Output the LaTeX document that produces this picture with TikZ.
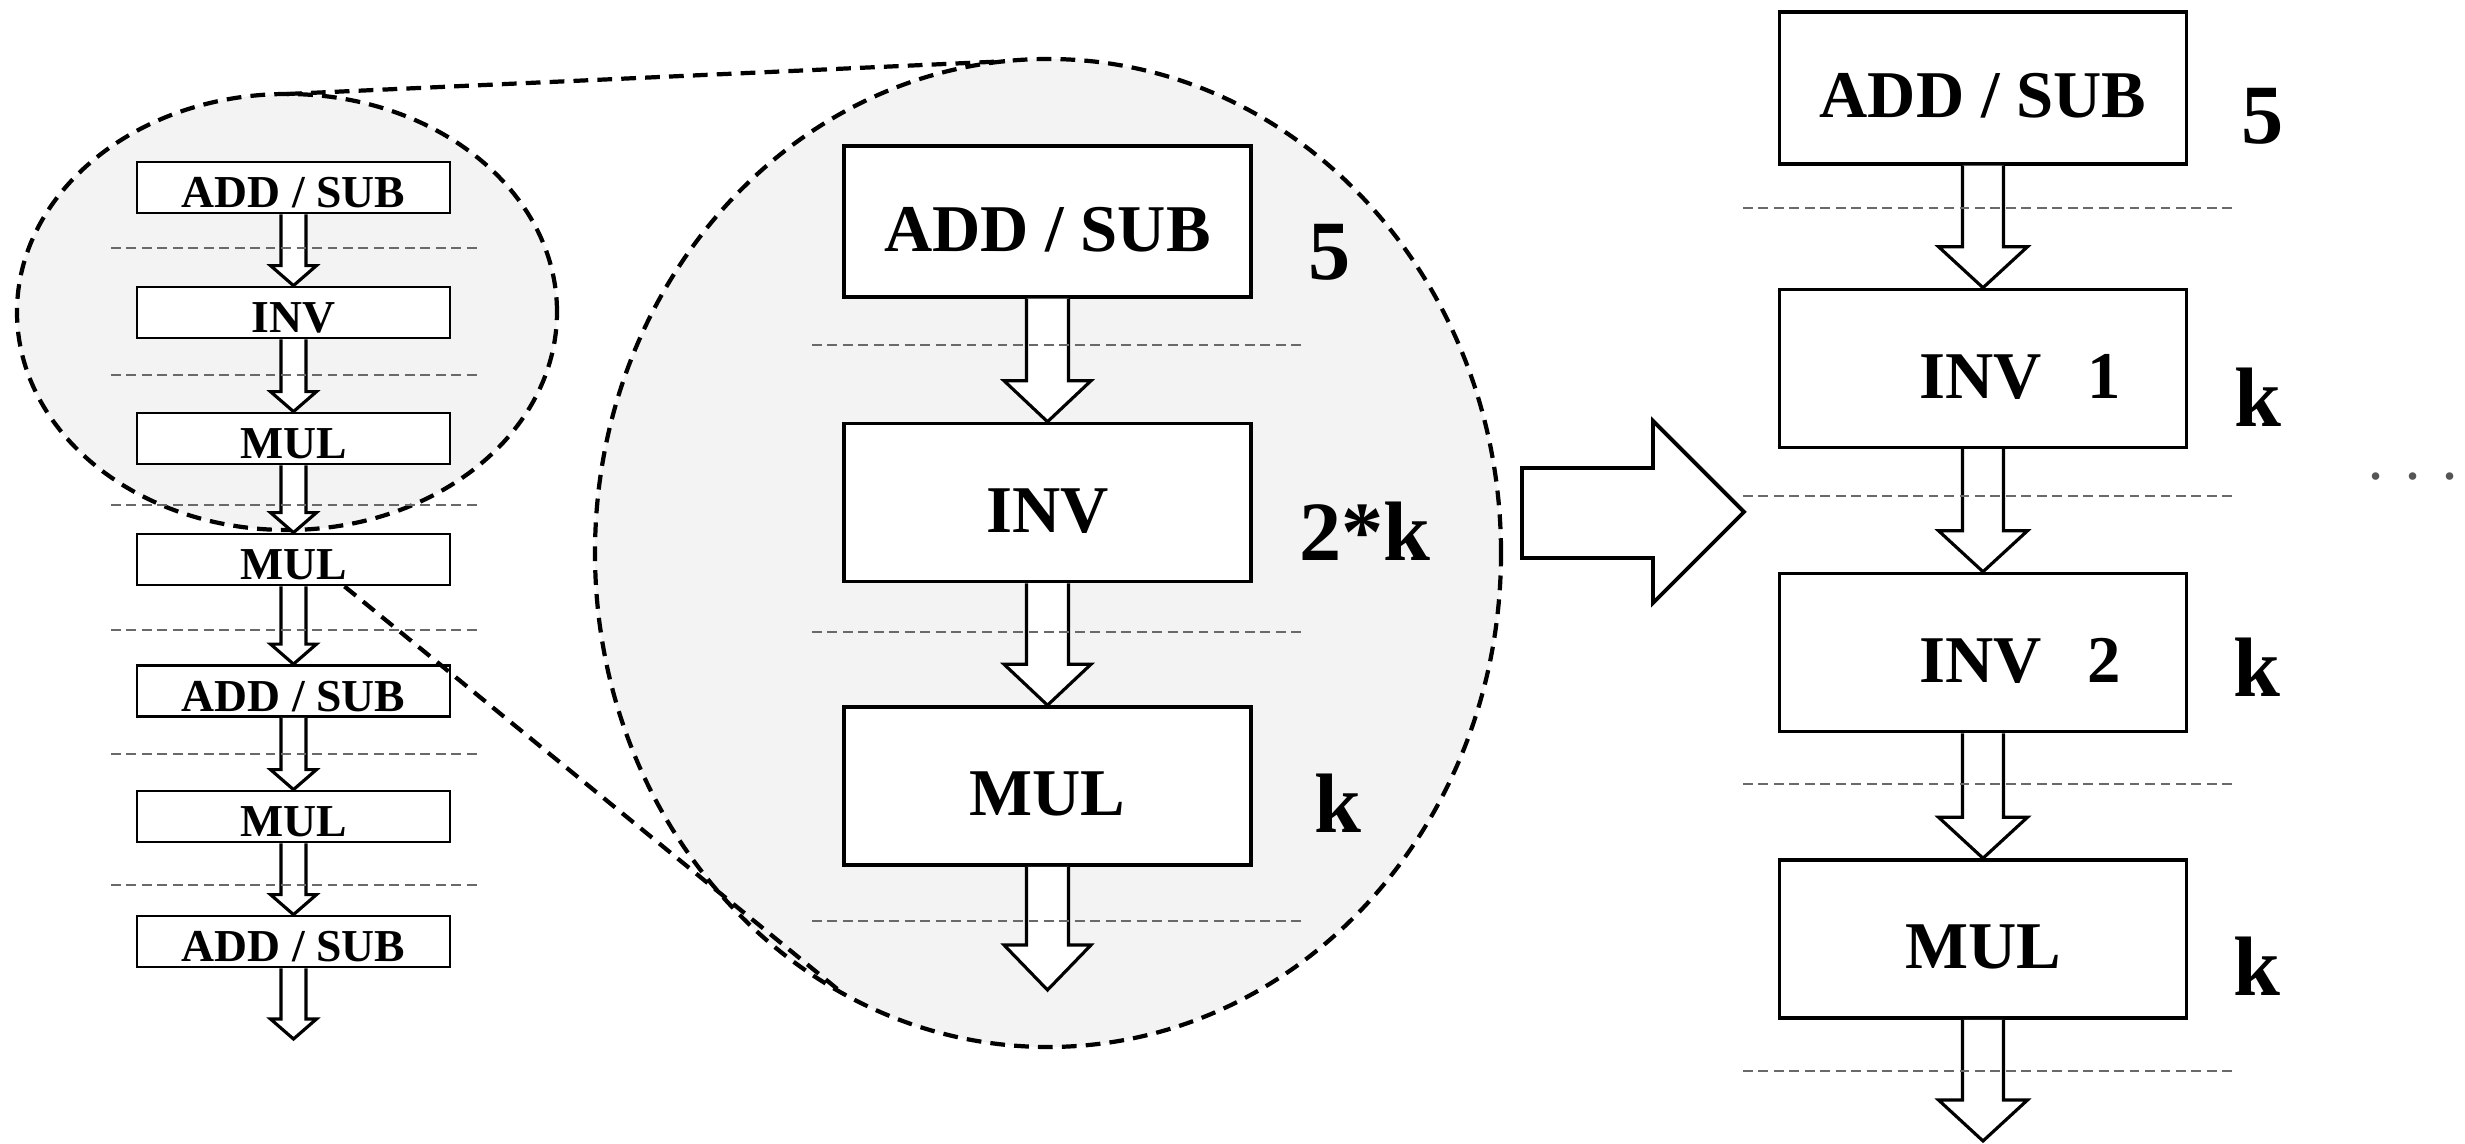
\documentclass[tikz,border=0pt]{standalone}
\usepackage{fontspec}
\setmainfont{Liberation Serif}
\usepackage{tikz}
\usetikzlibrary{calc, shapes.geometric}
\definecolor{zoomgray}{RGB}{243, 243, 243}
\definecolor{sepgray}{RGB}{105, 105, 105}
\definecolor{dotgray}{RGB}{85, 85, 85}

% hollow block arrow: #1 start, #2 tip, #3 half shaft, #4 half head, #5 head length
\newcommand{\flowarrow}[5]{%
    \draw[hollowarrow] ($(#1)+(-#3,0)$) -- ($(#2)+(-#3,#5)$) -- ($(#2)+(-#4,#5)$) -- (#2)
        -- ($(#2)+(#4,#5)$) -- ($(#2)+(#3,#5)$) -- ($(#1)+(#3,0)$);
}

\begin{document}
\begin{tikzpicture}[
    smallbox/.style={draw, fill=white, line width=0.8pt, minimum width=3.13cm, minimum height=0.51cm,
        inner sep=0pt, text height=0.41cm, text depth=0pt, font=\fontsize{13}{13}\selectfont\bfseries},
    bigbox/.style={draw, fill=white, line width=1pt, minimum width=4.07cm, minimum height=1.58cm,
        inner sep=0pt, text height=0.60cm, text depth=0pt, font=\fontsize{19}{19}\selectfont\bfseries},
    countlabel/.style={font=\fontsize{24}{24}\selectfont\bfseries},
    hollowarrow/.style={fill=white, line width=0.9pt, line join=miter},
    stagesep/.style={sepgray, line width=0.5pt, dash pattern=on 2.8pt off 1.6pt},
    zoomline/.style={line width=1.2pt, dash pattern=on 4.2pt off 2.6pt},
    zoomarea/.style={ellipse, draw, zoomline, fill=zoomgray, inner sep=0pt, outer sep=0pt}
]
    \useasboundingbox (0,0) rectangle (24.65,11.43);

    % Zoom areas
    \node[zoomarea, minimum width=5.40cm, minimum height=4.36cm] (zoomSmall) at (2.87,8.31) {};
    \node[zoomarea, minimum width=9.06cm, minimum height=9.88cm] (zoomBig) at (10.48,5.90) {};

    % Left column: full sequence
    \foreach \i/\op/\y in {1/{ADD / SUB}/9.555, 2/INV/8.305, 3/MUL/7.045, 4/MUL/5.835,
                           5/{ADD / SUB}/4.52, 6/MUL/3.265, 7/{ADD / SUB}/2.015} {
        \node[smallbox] (l\i) at (2.935,\y) {\op};
    }
    \coordinate (lEnd) at (2.935,1.04);
    \foreach \i [count=\j from 2] in {1,...,6} {
        \flowarrow{l\i.south}{l\j.north}{0.125}{0.23}{0.2}
    }
    \flowarrow{l7.south}{lEnd}{0.125}{0.23}{0.2}
    \foreach \y in {8.95, 7.68, 6.38, 5.13, 3.89, 2.58} {
        \draw[stagesep] (1.11,\y) -- (4.77,\y);
    }

    % Zoom lines
    \draw[zoomline] (zoomSmall.north) -- (zoomBig.95);
    \draw[zoomline] ($(l4.south)+(0.51,0)$) -- (zoomBig.245);

    % Middle: zoomed stages
    \node[bigbox, minimum height=1.51cm] (mAdd) at (10.475,9.215) {ADD / SUB};
    \node[bigbox] (mInv) at (10.475,6.405) {INV};
    \node[bigbox] (mMul) at (10.475,3.57) {MUL};
    \coordinate (mEnd) at (10.475,1.53);
    \flowarrow{mAdd.south}{mInv.north}{0.21}{0.435}{0.41}
    \flowarrow{mInv.south}{mMul.north}{0.21}{0.435}{0.41}
    \flowarrow{mMul.south}{mEnd}{0.21}{0.435}{0.45}
    \foreach \y in {7.98, 5.11, 2.22} {
        \draw[stagesep] (8.12,\y) -- (13.04,\y);
    }
    \node[countlabel] (mAddN) at (13.30,8.91) {5};
    \node[countlabel] (mInvN) at (13.65,6.12) {2*k};
    \node[countlabel] (mMulN) at (13.38,3.40) {k};

    % Transform arrow
    \draw[hollowarrow, line width=1.1pt] (15.22,5.85) -- (16.53,5.85) -- (16.53,5.40) -- (17.44,6.31)
        -- (16.53,7.22) -- (16.53,6.75) -- (15.22,6.75) -- cycle;

    % Right column: split inversion
    \node[bigbox, minimum height=1.52cm] (rAdd) at (19.83,10.55) {ADD / SUB};
    \node[bigbox] (rInv1) at (19.83,7.745) {\hspace*{0.74cm}INV\hspace{0.46cm}1};
    \node[bigbox] (rInv2) at (19.83,4.905) {\hspace*{0.74cm}INV\hspace{0.46cm}2};
    \node[bigbox] (rMul) at (19.83,2.04) {MUL};
    \coordinate (rEnd) at (19.83,0.02);
    \flowarrow{rAdd.south}{rInv1.north}{0.205}{0.445}{0.41}
    \flowarrow{rInv1.south}{rInv2.north}{0.205}{0.445}{0.41}
    \flowarrow{rInv2.south}{rMul.north}{0.205}{0.445}{0.41}
    \flowarrow{rMul.south}{rEnd}{0.205}{0.445}{0.41}
    \foreach \y in {9.35, 6.47, 3.59, 0.72} {
        \draw[stagesep] (17.43,\y) -- (22.35,\y);
    }
    \node[countlabel] (rAddN) at (22.63,10.27) {5};
    \node[countlabel] (rInv1N) at (22.58,7.46) {k};
    \node[countlabel] (rInv2N) at (22.57,4.76) {k};
    \node[countlabel] (rMulN) at (22.57,1.77) {k};

    \node[font=\fontsize{18}{18}\selectfont, text=dotgray] (more) at (24.13,6.58) {· · ·};
\end{tikzpicture}
\end{document}
